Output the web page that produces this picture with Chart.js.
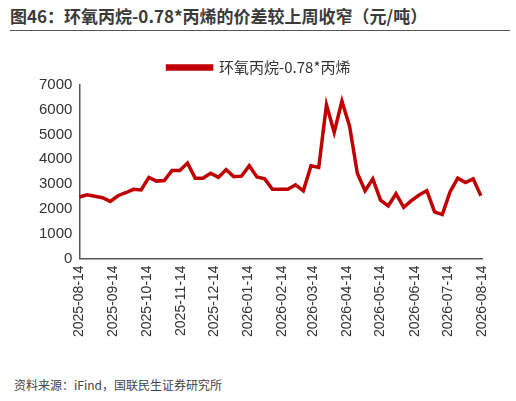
<!DOCTYPE html>
<html><head><meta charset="utf-8">
<script src="https://cdn.jsdelivr.net/npm/chart.js@4"></script>
<style>
body{margin:0;width:516px;height:401px;background:#fff;font-family:"Noto Sans CJK SC",sans-serif;position:relative;overflow:hidden}
#title{position:absolute;left:10px;top:3px;width:500px;font-size:17px;font-weight:bold;color:#3a3a3a;border-bottom:1.5px solid #555;padding-bottom:2px;white-space:nowrap}
#box{position:absolute;left:0;top:50px;width:516px;height:290px}
#src{position:absolute;left:14px;top:376px;font-size:12px;color:#444}
</style></head><body>
<div id="title">图46：环氧丙烷-0.78*丙烯的价差较上周收窄（元/吨）</div>
<div id="box"><canvas id="c"></canvas></div>
<div id="src">资料来源：iFind，国联民生证券研究所</div>
<script>
// day offsets from 2025-08-14, weekly
var days = [0,7,14,21,28,35,42,49,56,63,70,77,84,91,98,105,112,119,126,133,140,147,154,161,168,175,182,189,196,203,210,217,224,231,238,245,252,259,266,273,280,287,294,301,308,315,322,329,336,343,350,357,364];
var spread = [2480,2570,2510,2450,2300,2530,2650,2790,2760,3270,3120,3140,3550,3550,3850,3240,3240,3440,3270,3580,3300,3320,3740,3290,3210,2790,2790,2790,2970,2730,3740,3670,6200,5090,6350,5330,3440,2730,3210,2350,2120,2610,2060,2330,2560,2730,1880,1770,2680,3240,3060,3210,2530];
var tickDays = [0,31,61,92,122,153,184,212,243,273,304,334,365];
var tickLabels = ['2025-08-14','2025-09-14','2025-10-14','2025-11-14','2025-12-14','2026-01-14','2026-02-14','2026-03-14','2026-04-14','2026-05-14','2026-06-14','2026-07-14','2026-08-14'];
var seriesName = '环氧丙烷-0.78*丙烯';

var pts = [];
for (var i = 0; i < days.length; i++) pts.push({x: days[i], y: spread[i]});

new Chart(document.getElementById('c'), {
  type: 'line',
  data: {datasets: [{label: seriesName, data: pts, borderColor: '#c00000', backgroundColor: '#c00000', borderWidth: 3.5, pointRadius: 0, tension: 0}]},
  options: {
    responsive: true, maintainAspectRatio: false, animation: false,
    layout: {padding: {left: 36, right: 34, top: 0}},
    plugins: {legend: {labels: {boxWidth: 44, boxHeight: 3, color: '#333', font: {size: 15, family: 'Noto Sans CJK SC'}}}},
    scales: {
      x: {type: 'linear', min: 0, max: 365, grid: {display: false, drawTicks: true, tickLength: 4, tickColor: '#555'}, border: {color: '#555', width: 1.5},
        afterBuildTicks: function(ax){ ax.ticks = tickDays.map(function(d){return {value: d};}); },
        ticks: {maxRotation: 90, minRotation: 90, color: '#333', font: {size: 14}, autoSkip: false,
          callback: function(v){ var k = tickDays.indexOf(v); return k < 0 ? '' : tickLabels[k]; }}},
      y: {min: 0, max: 7000, grid: {display: false, tickLength: 4, tickColor: '#555'}, border: {color: '#555', width: 1.5},
        ticks: {stepSize: 1000, color: '#333', font: {size: 15}, callback: function(v){ return String(v); }}}
    }
  }
});
</script>
</body></html>
